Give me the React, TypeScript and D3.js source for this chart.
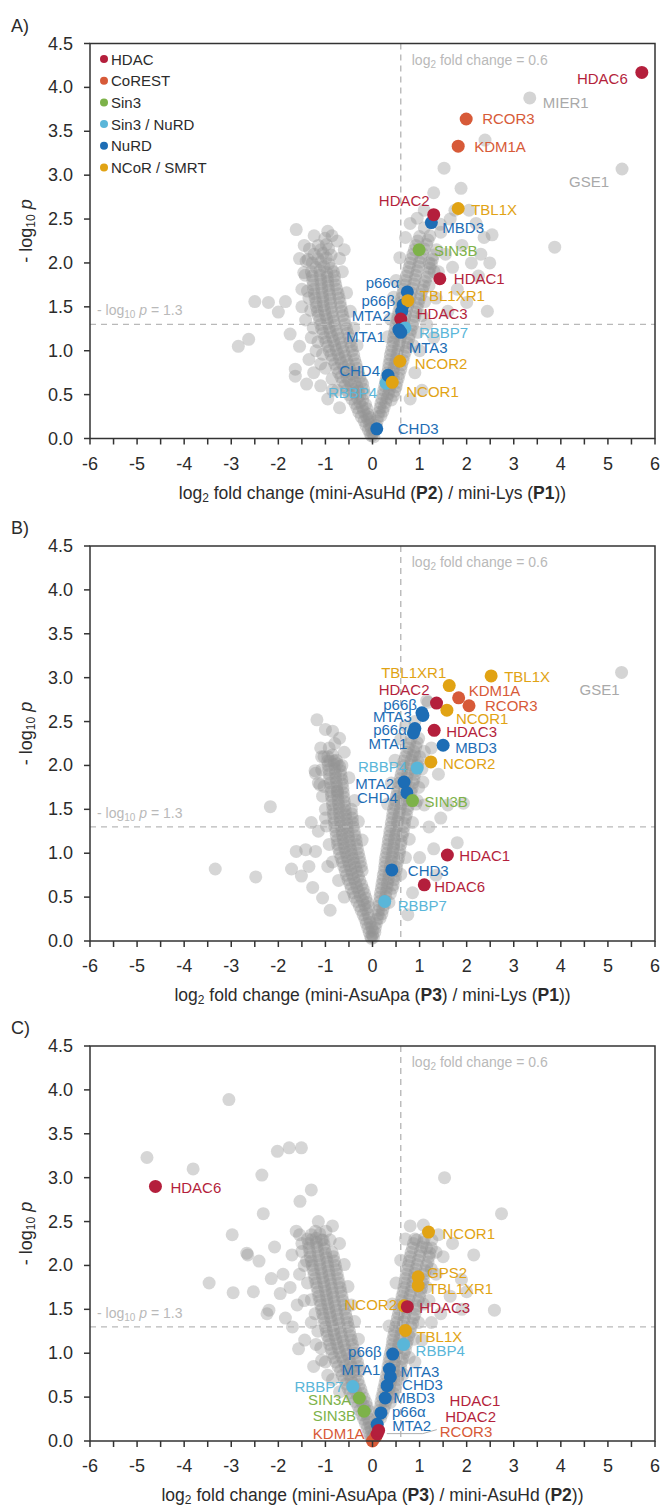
import React from 'react';
import * as d3 from 'd3';

// complex groups (legend order) and their colours
const groups = ['HDAC', 'CoREST', 'Sin3', 'Sin3 / NuRD', 'NuRD', 'NCoR / SMRT'];
const groupColors = ['#b41f3c', '#d75a38', '#7db249', '#5ab6d9', '#1d6db5', '#e1a314'];
const otherColor = '#d4d4d4';

// [gene, group, log2 fold change, -log10 p]
const genesA: [string, string, number, number][] = [
  ['HDAC6', 'HDAC', 5.72, 4.17],
  ['MIER1', 'other', 3.34, 3.88],
  ['RCOR3', 'CoREST', 1.99, 3.64],
  ['KDM1A', 'CoREST', 1.82, 3.33],
  ['GSE1', 'other', 5.3, 3.07],
  ['TBL1X', 'NCoR / SMRT', 1.82, 2.62],
  ['MBD3', 'NuRD', 1.25, 2.46],
  ['HDAC2', 'HDAC', 1.3, 2.55],
  ['SIN3B', 'Sin3', 0.99, 2.15],
  ['HDAC1', 'HDAC', 1.43, 1.82],
  ['p66α', 'NuRD', 0.74, 1.67],
  ['p66β', 'NuRD', 0.65, 1.52],
  ['TBL1XR1', 'NCoR / SMRT', 0.75, 1.57],
  ['MTA2', 'NuRD', 0.62, 1.45],
  ['HDAC3', 'HDAC', 0.6, 1.36],
  ['RBBP7', 'Sin3 / NuRD', 0.69, 1.26],
  ['MTA1', 'NuRD', 0.56, 1.24],
  ['MTA3', 'NuRD', 0.6, 1.21],
  ['NCOR2', 'NCoR / SMRT', 0.58, 0.88],
  ['RBBP4', 'Sin3 / NuRD', 0.29, 0.63],
  ['CHD4', 'NuRD', 0.33, 0.72],
  ['NCOR1', 'NCoR / SMRT', 0.42, 0.64],
  ['CHD3', 'NuRD', 0.09, 0.11],
];

const genesB: [string, string, number, number][] = [
  ['GSE1', 'other', 5.29, 3.06],
  ['TBL1X', 'NCoR / SMRT', 2.52, 3.02],
  ['TBL1XR1', 'NCoR / SMRT', 1.63, 2.91],
  ['KDM1A', 'CoREST', 1.83, 2.77],
  ['RCOR3', 'CoREST', 2.05, 2.68],
  ['NCOR1', 'NCoR / SMRT', 1.58, 2.63],
  ['HDAC2', 'HDAC', 1.36, 2.71],
  ['p66β', 'NuRD', 1.05, 2.6],
  ['MTA3', 'NuRD', 1.07, 2.57],
  ['p66α', 'NuRD', 0.9, 2.42],
  ['MTA1', 'NuRD', 0.87, 2.37],
  ['HDAC3', 'HDAC', 1.31, 2.4],
  ['MBD3', 'NuRD', 1.5, 2.23],
  ['NCOR2', 'NCoR / SMRT', 1.24, 2.04],
  ['RBBP4', 'Sin3 / NuRD', 0.95, 1.97],
  ['MTA2', 'NuRD', 0.67, 1.81],
  ['CHD4', 'NuRD', 0.73, 1.69],
  ['SIN3B', 'Sin3', 0.85, 1.6],
  ['HDAC1', 'HDAC', 1.59, 0.98],
  ['CHD3', 'NuRD', 0.41, 0.81],
  ['HDAC6', 'HDAC', 1.1, 0.64],
  ['RBBP7', 'Sin3 / NuRD', 0.26, 0.45],
];

const genesC: [string, string, number, number][] = [
  ['HDAC6', 'HDAC', -4.61, 2.9],
  ['NCOR1', 'NCoR / SMRT', 1.19, 2.38],
  ['GPS2', 'NCoR / SMRT', 0.97, 1.87],
  ['TBL1XR1', 'NCoR / SMRT', 0.97, 1.77],
  ['NCOR2', 'NCoR / SMRT', 0.67, 1.54],
  ['HDAC3', 'HDAC', 0.74, 1.53],
  ['TBL1X', 'NCoR / SMRT', 0.7, 1.26],
  ['RBBP4', 'Sin3 / NuRD', 0.66, 1.1],
  ['p66β', 'NuRD', 0.43, 0.99],
  ['MTA1', 'NuRD', 0.36, 0.82],
  ['MTA3', 'NuRD', 0.38, 0.73],
  ['CHD3', 'NuRD', 0.31, 0.63],
  ['MBD3', 'NuRD', 0.27, 0.49],
  ['p66α', 'NuRD', 0.18, 0.32],
  ['MTA2', 'NuRD', 0.1, 0.19],
  ['RBBP7', 'Sin3 / NuRD', -0.42, 0.62],
  ['SIN3A', 'Sin3', -0.28, 0.49],
  ['SIN3B', 'Sin3', -0.18, 0.34],
  ['KDM1A', 'CoREST', 0.0, 0.0],
  ['RCOR3', 'CoREST', 0.07, 0.05],
  ['HDAC2', 'HDAC', 0.1, 0.08],
  ['HDAC1', 'HDAC', 0.13, 0.12],
];

// all other quantified proteins, [log2 fold change, -log10 p]
const backgroundA: [number, number][] = [
  // left arm
  [-0.02,0.03],[0.03,0.02],[-0.09,0.1],[-0.03,0.12],[0.04,0.09],[-0.18,0.2],[-0.1,0.22],[-0.04,0.19],
  [-0.29,0.3],[-0.19,0.31],[-0.1,0.28],[-0.37,0.4],[-0.27,0.41],[-0.15,0.39],[-0.5,0.5],[-0.38,0.52],
  [-0.27,0.49],[-0.17,0.51],[-0.59,0.6],[-0.46,0.61],[-0.33,0.59],[-0.21,0.62],[-0.67,0.7],[-0.54,0.69],
  [-0.41,0.72],[-0.27,0.7],[-0.76,0.8],[-0.61,0.81],[-0.48,0.79],[-0.33,0.8],[-0.85,0.9],[-0.7,0.91],
  [-0.55,0.89],[-0.38,0.9],[-0.92,1.0],[-0.77,1.01],[-0.61,0.99],[-0.43,1.0],[-0.99,1.1],[-0.83,1.11],
  [-0.67,1.09],[-0.48,1.1],[-1.05,1.2],[-0.9,1.21],[-0.74,1.19],[-0.53,1.2],[-1.1,1.3],[-0.95,1.31],
  [-0.8,1.29],[-0.58,1.3],[-1.15,1.4],[-1.0,1.41],[-0.84,1.39],[-0.63,1.4],[-1.19,1.5],[-1.04,1.51],
  [-0.88,1.49],[-0.67,1.5],[-1.22,1.6],[-1.06,1.61],[-0.9,1.59],[-0.71,1.6],[-1.25,1.7],[-1.08,1.71],
  [-0.93,1.69],[-0.76,1.7],[-1.27,1.8],[-1.1,1.81],[-0.95,1.79],[-0.8,1.8],[-1.3,1.9],[-1.12,1.91],
  [-0.97,1.89],[-0.83,1.9],[-1.28,2.0],[-1.1,2.01],[-0.93,1.99],[-1.24,2.1],[-1.05,2.11],[-0.88,2.09],
  [-1.15,2.2],[-0.98,2.21],
  [-0.05,0.05],[0.01,0.06],[-0.14,0.15],[-0.06,0.16],[-0.24,0.25],[-0.14,0.26],[-0.06,0.24],
  [-0.33,0.35],[-0.22,0.36],[-0.12,0.34],[-0.44,0.45],[-0.32,0.46],[-0.21,0.44],
  [-0.55,0.55],[-0.42,0.56],[-0.3,0.54],[-0.19,0.56],[-0.63,0.65],[-0.5,0.66],[-0.37,0.64],[-0.24,0.65],
  [-0.72,0.75],[-0.58,0.76],[-0.44,0.74],[-0.3,0.75],[-0.8,0.85],[-0.66,0.86],[-0.51,0.84],[-0.35,0.85],
  [-0.88,0.95],[-0.73,0.96],[-0.58,0.94],[-0.4,0.95],[-0.95,1.05],[-0.8,1.06],[-0.64,1.04],[-0.45,1.05],
  [-1.02,1.15],[-0.86,1.16],[-0.7,1.14],[-0.5,1.15],[-1.08,1.25],[-0.92,1.26],[-0.77,1.24],[-0.55,1.25],
  [-1.12,1.35],[-0.97,1.36],[-0.82,1.34],[-0.6,1.35],[-1.17,1.45],[-1.02,1.46],[-0.86,1.44],[-0.65,1.45],
  [-1.2,1.55],[-1.05,1.56],[-0.89,1.54],[-0.69,1.55],[-1.24,1.65],[-1.07,1.66],[-0.91,1.64],[-0.73,1.65],
  [-1.26,1.75],[-1.09,1.76],[-0.94,1.74],[-0.78,1.75],[-1.28,1.85],[-1.11,1.86],[-0.96,1.84],[-0.81,1.85],
  [-1.2,1.95],[-1.03,1.96],[-0.88,1.94],[-1.16,2.05],[-0.98,2.06],[-1.1,2.15],[-0.93,2.16],
  // left arm, sparse edge
  [-0.75,0.55],[-0.86,0.68],[-1.0,0.8],[-1.06,0.96],[-1.16,1.1],[-1.26,1.26],[-1.31,1.46],[-1.38,1.68],
  [-1.43,1.86],[-1.41,2.02],[-1.34,2.16],[-1.24,2.31],[-0.86,2.31],[-0.95,2.36],[-0.7,2.05],[-0.64,1.9],
  [-0.55,1.66],[-0.47,1.45],[-0.4,1.26],[-0.33,1.06],
  // right arm
  [0.06,0.1],[0.1,0.2],[0.14,0.3],[0.22,0.31],[0.18,0.4],[0.28,0.41],[0.22,0.5],[0.34,0.51],[0.45,0.49],
  [0.26,0.6],[0.38,0.61],[0.5,0.59],[0.3,0.7],[0.42,0.71],[0.55,0.69],[0.34,0.8],[0.46,0.81],[0.6,0.79],
  [0.37,0.9],[0.5,0.91],[0.65,0.89],[0.4,1.0],[0.54,1.01],[0.7,0.99],[0.44,1.1],[0.58,1.11],[0.74,1.09],
  [0.47,1.2],[0.62,1.21],[0.8,1.19],[0.5,1.3],[0.66,1.31],[0.85,1.29],[0.54,1.4],[0.7,1.41],[0.9,1.39],
  [0.58,1.5],[0.75,1.51],[0.95,1.49],[0.62,1.6],[0.8,1.61],[1.0,1.59],[0.66,1.7],[0.85,1.71],[1.06,1.69],
  [0.7,1.8],[0.9,1.81],[1.12,1.79],[0.75,1.9],[0.95,1.91],[1.2,1.89],[0.8,2.0],[1.0,2.01],[1.25,1.99],
  [0.86,2.1],[1.06,2.11],[1.3,2.09],[0.92,2.2],[1.15,2.21],[1.0,2.3],[1.22,2.31],[1.1,2.4],
  [0.08,0.15],[0.12,0.25],[0.18,0.26],[0.16,0.35],[0.25,0.36],[0.2,0.45],[0.31,0.46],[0.4,0.44],
  [0.24,0.55],[0.36,0.56],[0.47,0.54],[0.28,0.65],[0.4,0.66],[0.52,0.64],[0.32,0.75],[0.44,0.76],[0.57,0.74],
  [0.35,0.85],[0.48,0.86],[0.62,0.84],[0.38,0.95],[0.52,0.96],[0.67,0.94],[0.42,1.05],[0.56,1.06],[0.72,1.04],
  [0.45,1.15],[0.6,1.16],[0.77,1.14],[0.48,1.25],[0.64,1.26],[0.82,1.24],[0.52,1.35],[0.68,1.36],[0.87,1.34],
  [0.56,1.45],[0.72,1.46],[0.92,1.44],[0.6,1.55],[0.78,1.56],[0.97,1.54],[0.64,1.65],[0.82,1.66],[1.03,1.64],
  [0.68,1.75],[0.88,1.76],[1.09,1.74],[0.72,1.85],[0.92,1.86],[1.16,1.84],[0.78,1.95],[0.98,1.96],[1.22,1.94],
  [0.83,2.05],[1.03,2.06],[1.27,2.04],[0.89,2.15],[1.1,2.16],[0.96,2.25],[1.18,2.26],
  // right arm, sparse edge
  [0.86,1.06],[0.96,1.21],[1.05,1.4],[1.11,1.56],[1.2,1.74],[1.31,1.9],[1.36,2.15],[1.44,2.44],
  [0.33,1.16],[0.38,1.36],[0.45,1.61],[0.5,1.8],[0.58,2.06],[0.7,2.29],[0.8,2.45],[0.95,2.51],
  // scattered
  [-2.85,1.05],[-2.63,1.13],[-2.5,1.56],[-2.21,1.55],[-1.85,1.56],[-2.0,1.44],[-1.75,1.19],[-1.62,2.38],
  [-1.37,2.04],[-1.01,2.28],[-1.46,1.89],[-1.64,0.79],[-1.64,0.71],[-1.5,1.7],[-1.42,1.35],[-1.55,1.05],
  [-1.35,0.9],[-1.25,0.75],[-1.1,0.6],[-1.4,0.62],[-0.95,0.45],[-1.5,1.5],[-1.35,1.6],[-1.3,1.15],
  [-1.2,1.0],[-1.1,0.85],[-0.85,0.55],[-0.7,0.35],[-1.55,2.05],[-1.45,2.2],[-0.75,2.25],[-0.6,2.15],
  [1.52,3.08],[1.88,2.85],[2.39,3.4],[2.37,2.29],[2.54,2.32],[3.87,2.18],[2.44,1.45],[2.49,2.0],
  [1.65,2.5],[1.45,2.35],[1.9,2.2],[2.1,2.0],[2.25,1.85],[1.7,1.95],[1.35,1.6],[1.15,1.3],[1.6,1.45],
  [2.0,1.55],[1.3,1.15],[1.0,1.0],[1.2,2.0],[1.55,2.1],[1.8,1.7],[2.2,2.45],[1.1,2.6],[1.3,2.8],
  [0.9,0.75],[1.05,0.55],[0.8,0.45],[1.75,2.6],[2.05,2.6],[2.3,2.1],[1.4,1.9],
];

const backgroundB: [number, number][] = [
  // left arm
  [-0.02,0.03],[0.02,0.04],[-0.07,0.1],[0.0,0.12],[-0.13,0.2],[-0.05,0.21],[-0.2,0.3],[-0.1,0.31],
  [-0.28,0.4],[-0.17,0.41],[-0.08,0.39],[-0.38,0.5],[-0.26,0.51],[-0.14,0.49],[-0.45,0.6],[-0.33,0.61],
  [-0.2,0.59],[-0.52,0.7],[-0.4,0.71],[-0.27,0.69],[-0.58,0.8],[-0.46,0.81],[-0.33,0.79],[-0.22,0.8],
  [-0.64,0.9],[-0.52,0.91],[-0.39,0.89],[-0.26,0.9],[-0.7,1.0],[-0.57,1.01],[-0.44,0.99],[-0.3,1.0],
  [-0.74,1.1],[-0.61,1.11],[-0.48,1.09],[-0.34,1.1],[-0.77,1.2],[-0.64,1.21],[-0.51,1.19],[-0.37,1.2],
  [-0.8,1.3],[-0.67,1.31],[-0.54,1.29],[-0.41,1.3],[-0.82,1.4],[-0.69,1.41],[-0.56,1.39],[-0.43,1.4],
  [-0.84,1.5],[-0.71,1.51],[-0.58,1.49],[-0.45,1.5],[-0.86,1.6],[-0.73,1.61],[-0.6,1.59],[-0.88,1.7],
  [-0.75,1.71],[-0.62,1.69],[-0.9,1.8],[-0.77,1.81],[-0.64,1.79],[-0.92,1.9],[-0.79,1.91],[-0.67,1.89],
  [-0.94,2.0],[-0.82,2.01],[-0.7,1.99],[-0.95,2.1],[-0.85,2.12],[-0.92,2.2],[-0.8,2.25],
  [-0.04,0.05],[0.0,0.07],[-0.1,0.15],[-0.02,0.16],[-0.16,0.25],[-0.07,0.26],[-0.24,0.35],[-0.14,0.36],
  [-0.33,0.45],[-0.21,0.46],[-0.11,0.44],[-0.41,0.55],[-0.29,0.56],[-0.17,0.54],[-0.48,0.65],[-0.36,0.66],
  [-0.23,0.64],[-0.55,0.75],[-0.43,0.76],[-0.3,0.74],[-0.61,0.85],[-0.49,0.86],[-0.36,0.84],[-0.24,0.85],
  [-0.67,0.95],[-0.54,0.96],[-0.41,0.94],[-0.28,0.95],[-0.72,1.05],[-0.59,1.06],[-0.46,1.04],[-0.32,1.05],
  [-0.75,1.15],[-0.62,1.16],[-0.49,1.14],[-0.35,1.15],[-0.78,1.25],[-0.65,1.26],[-0.52,1.24],[-0.39,1.25],
  [-0.81,1.35],[-0.68,1.36],[-0.55,1.34],[-0.42,1.35],[-0.83,1.45],[-0.7,1.46],[-0.57,1.44],[-0.44,1.45],
  [-0.85,1.55],[-0.72,1.56],[-0.59,1.54],[-0.87,1.65],[-0.74,1.66],[-0.61,1.64],[-0.89,1.75],[-0.76,1.76],
  [-0.63,1.74],[-0.91,1.85],[-0.78,1.86],[-0.65,1.84],[-0.93,1.95],[-0.8,1.96],[-0.68,1.94],[-0.9,2.05],
  [-0.77,2.06],
  // left arm, sparse edge
  [-0.6,0.5],[-0.72,0.69],[-0.85,0.9],[-0.92,1.1],[-0.98,1.31],[-1.0,1.5],[-1.03,1.76],[-1.08,1.95],
  [-1.1,2.2],[-0.7,2.31],[-0.6,2.15],[-0.5,1.86],[-0.38,1.6],[-0.3,1.36],[-0.22,1.15],
  // right arm
  [0.05,0.1],[0.08,0.2],[0.12,0.3],[0.2,0.31],[0.14,0.4],[0.25,0.41],[0.16,0.5],[0.28,0.51],[0.19,0.6],
  [0.31,0.61],[0.42,0.6],[0.22,0.7],[0.34,0.71],[0.46,0.7],[0.25,0.8],[0.37,0.81],[0.5,0.8],[0.27,0.9],
  [0.4,0.91],[0.53,0.9],[0.3,1.0],[0.43,1.01],[0.57,1.0],[0.33,1.1],[0.46,1.11],[0.6,1.1],[0.36,1.2],
  [0.49,1.21],[0.63,1.2],[0.39,1.3],[0.52,1.31],[0.67,1.3],[0.42,1.4],[0.55,1.41],[0.7,1.4],[0.45,1.5],
  [0.59,1.51],[0.74,1.5],[0.49,1.6],[0.63,1.61],[0.78,1.6],[0.53,1.7],[0.67,1.71],[0.82,1.7],[0.57,1.8],
  [0.71,1.81],[0.86,1.8],[0.61,1.9],[0.75,1.91],[0.9,1.9],[0.65,2.0],[0.8,2.01],[0.95,2.0],[0.7,2.1],
  [0.85,2.11],[1.0,2.1],[0.76,2.2],[0.92,2.21],[0.82,2.3],[0.98,2.31],
  [0.06,0.15],[0.1,0.25],[0.16,0.26],[0.13,0.35],[0.22,0.36],[0.15,0.45],[0.26,0.46],[0.35,0.44],
  [0.17,0.55],[0.29,0.56],[0.38,0.54],[0.2,0.65],[0.32,0.66],[0.44,0.64],[0.23,0.75],[0.35,0.76],[0.48,0.74],
  [0.26,0.85],[0.38,0.86],[0.51,0.84],[0.28,0.95],[0.41,0.96],[0.55,0.94],[0.31,1.05],[0.44,1.06],[0.58,1.04],
  [0.34,1.15],[0.47,1.16],[0.61,1.14],[0.37,1.25],[0.5,1.26],[0.65,1.24],[0.4,1.35],[0.53,1.36],[0.68,1.34],
  [0.43,1.45],[0.57,1.46],[0.72,1.44],[0.47,1.55],[0.61,1.56],[0.76,1.54],[0.51,1.65],[0.65,1.66],[0.8,1.64],
  [0.55,1.75],[0.69,1.76],[0.84,1.74],[0.59,1.85],[0.73,1.86],[0.88,1.84],[0.63,1.95],[0.77,1.96],[0.92,1.94],
  [0.67,2.05],[0.82,2.06],[0.97,2.04],[0.73,2.15],[0.88,2.16],[0.79,2.25],[0.95,2.26],
  // right arm, sparse edge
  [0.6,0.76],[0.7,0.95],[0.78,1.16],[0.85,1.35],[0.92,1.56],[0.98,1.75],[1.05,1.96],[1.1,2.16],
  [0.32,1.56],[0.4,1.8],[0.48,2.06],[0.6,2.3],[0.7,2.45],[0.9,2.5],
  // scattered
  [-3.34,0.82],[-2.48,0.73],[-2.17,1.53],[-1.72,0.82],[-1.62,1.02],[-1.42,1.04],[-1.21,1.02],[-1.51,0.74],
  [-1.27,0.61],[-1.06,0.49],[-1.03,2.1],[-0.81,2.05],[-1.21,1.91],[-1.12,1.78],[-1.06,1.65],[-0.65,2.0],
  [-1.18,2.52],[-1.0,2.41],[-0.85,2.39],[-1.08,2.1],[-0.95,2.05],[-0.75,2.02],[-1.22,1.94],[-1.15,1.8],
  [-0.74,1.7],[-1.3,1.35],[-1.15,1.25],[-1.0,1.4],[-0.95,0.85],[-1.35,0.85],[-0.9,0.35],
  [1.8,1.12],[1.93,1.57],[1.2,1.3],[1.0,0.95],[1.35,0.75],[1.45,1.4],[1.18,2.72],[1.15,2.74],[0.9,2.12],
  [1.07,1.81],[1.1,1.55],[1.3,1.05],[0.95,1.6],[1.6,1.55],[0.85,0.55],[0.75,0.3],[1.25,2.2],[1.4,1.9],
];

const backgroundC: [number, number][] = [
  // left arm
  [-0.02,0.03],[0.03,0.02],[-0.08,0.1],[-0.02,0.12],[-0.15,0.2],[-0.07,0.21],[-0.23,0.3],[-0.13,0.31],
  [-0.31,0.4],[-0.2,0.41],[-0.11,0.39],[-0.44,0.5],[-0.31,0.51],[-0.18,0.49],[-0.52,0.6],[-0.39,0.61],
  [-0.25,0.59],[-0.6,0.7],[-0.46,0.71],[-0.31,0.69],[-0.68,0.8],[-0.54,0.81],[-0.4,0.79],[-0.27,0.8],
  [-0.78,0.9],[-0.62,0.91],[-0.47,0.89],[-0.32,0.9],[-0.86,1.0],[-0.7,1.01],[-0.54,0.99],[-0.38,1.0],
  [-0.91,1.1],[-0.76,1.11],[-0.6,1.09],[-0.43,1.1],[-0.96,1.2],[-0.81,1.21],[-0.65,1.19],[-0.47,1.2],
  [-1.0,1.3],[-0.85,1.31],[-0.69,1.29],[-0.51,1.3],[-1.04,1.4],[-0.89,1.41],[-0.73,1.39],[-0.55,1.4],
  [-1.08,1.5],[-0.93,1.51],[-0.77,1.49],[-0.59,1.5],[-1.12,1.6],[-0.97,1.61],[-0.81,1.59],[-0.63,1.6],
  [-1.16,1.7],[-1.0,1.71],[-0.85,1.69],[-0.67,1.7],[-1.2,1.8],[-1.04,1.81],[-0.88,1.79],[-0.71,1.8],
  [-1.24,1.9],[-1.08,1.91],[-0.92,1.89],[-0.75,1.9],[-1.28,2.0],[-1.12,2.01],[-0.95,1.99],[-0.79,2.0],
  [-1.32,2.1],[-1.15,2.11],[-0.98,2.09],[-0.83,2.1],[-1.35,2.2],[-1.18,2.21],[-1.02,2.19],[-1.38,2.3],
  [-1.2,2.31],[-1.05,2.29],
  [-0.05,0.05],[0.01,0.06],[-0.11,0.15],[-0.04,0.16],[-0.19,0.25],[-0.1,0.26],[-0.27,0.35],[-0.16,0.36],
  [-0.07,0.34],[-0.37,0.45],[-0.25,0.46],[-0.14,0.44],[-0.48,0.55],[-0.35,0.56],[-0.22,0.54],
  [-0.56,0.65],[-0.42,0.66],[-0.28,0.64],[-0.64,0.75],[-0.5,0.76],[-0.35,0.74],[-0.73,0.85],[-0.58,0.86],
  [-0.43,0.84],[-0.3,0.85],[-0.82,0.95],[-0.66,0.96],[-0.5,0.94],[-0.35,0.95],[-0.88,1.05],[-0.73,1.06],
  [-0.57,1.04],[-0.4,1.05],[-0.93,1.15],[-0.78,1.16],[-0.62,1.14],[-0.45,1.15],[-0.98,1.25],[-0.83,1.26],
  [-0.67,1.24],[-0.49,1.25],[-1.02,1.35],[-0.87,1.36],[-0.71,1.34],[-0.53,1.35],[-1.06,1.45],[-0.91,1.46],
  [-0.75,1.44],[-0.57,1.45],[-1.1,1.55],[-0.95,1.56],[-0.79,1.54],[-0.61,1.55],[-1.14,1.65],[-0.98,1.66],
  [-0.83,1.64],[-0.65,1.65],[-1.18,1.75],[-1.02,1.76],[-0.86,1.74],[-0.69,1.75],[-1.22,1.85],[-1.06,1.86],
  [-0.9,1.84],[-0.73,1.85],[-1.26,1.95],[-1.1,1.96],[-0.93,1.94],[-0.77,1.95],[-1.3,2.05],[-1.13,2.06],
  [-0.96,2.04],[-0.81,2.05],[-1.33,2.15],[-1.16,2.16],[-1.0,2.14],[-0.86,2.15],[-1.36,2.25],[-1.19,2.26],
  [-1.03,2.24],[-1.3,2.35],[-1.12,2.36],
  // left arm, sparse edge
  [-0.7,0.56],[-0.85,0.7],[-1.0,0.9],[-1.1,1.06],[-1.16,1.25],[-1.22,1.45],[-1.3,1.61],[-1.38,1.8],
  [-1.45,2.0],[-1.5,2.16],[-1.55,2.35],[-0.85,2.45],[-0.7,2.25],[-0.6,2.01],[-0.52,1.76],[-0.45,1.55],
  [-0.38,1.36],[-0.3,1.16],
  // right arm
  [0.05,0.1],[0.09,0.2],[0.13,0.3],[0.21,0.31],[0.17,0.4],[0.27,0.41],[0.2,0.5],[0.32,0.51],[0.43,0.5],
  [0.24,0.6],[0.36,0.61],[0.48,0.6],[0.28,0.7],[0.4,0.71],[0.53,0.7],[0.32,0.8],[0.44,0.81],[0.58,0.8],
  [0.35,0.9],[0.48,0.91],[0.62,0.9],[0.38,1.0],[0.52,1.01],[0.67,1.0],[0.42,1.1],[0.56,1.11],[0.72,1.1],
  [0.45,1.2],[0.6,1.21],[0.77,1.2],[0.49,1.3],[0.64,1.31],[0.82,1.3],[0.53,1.4],[0.68,1.41],[0.87,1.4],
  [0.57,1.5],[0.72,1.51],[0.92,1.5],[0.61,1.6],[0.77,1.61],[0.97,1.6],[0.65,1.7],[0.82,1.71],[1.02,1.7],
  [0.69,1.8],[0.86,1.81],[1.06,1.8],[0.72,1.9],[0.9,1.91],[1.1,1.9],[0.76,2.0],[0.95,2.01],[1.15,2.0],
  [0.8,2.1],[1.0,2.11],[1.2,2.1],[0.85,2.2],[1.05,2.21],[1.25,2.2],[0.9,2.3],[1.1,2.31],
  [0.07,0.15],[0.11,0.25],[0.17,0.26],[0.15,0.35],[0.24,0.36],[0.18,0.45],[0.29,0.46],[0.38,0.44],
  [0.22,0.55],[0.34,0.56],[0.45,0.54],[0.26,0.65],[0.38,0.66],[0.5,0.64],[0.3,0.75],[0.42,0.76],[0.55,0.74],
  [0.33,0.85],[0.46,0.86],[0.6,0.84],[0.36,0.95],[0.5,0.96],[0.64,0.94],[0.4,1.05],[0.54,1.06],[0.7,1.04],
  [0.43,1.15],[0.58,1.16],[0.74,1.14],[0.47,1.25],[0.62,1.26],[0.8,1.24],[0.51,1.35],[0.66,1.36],[0.85,1.34],
  [0.55,1.45],[0.7,1.46],[0.9,1.44],[0.59,1.55],[0.75,1.56],[0.95,1.54],[0.63,1.65],[0.8,1.66],[1.0,1.64],
  [0.67,1.75],[0.84,1.76],[1.04,1.74],[0.7,1.85],[0.88,1.86],[1.08,1.84],[0.74,1.95],[0.92,1.96],[1.12,1.94],
  [0.78,2.05],[0.97,2.06],[1.18,2.04],[0.82,2.15],[1.02,2.16],[1.22,2.14],[0.87,2.25],[1.08,2.26],
  // right arm, sparse edge
  [0.65,0.76],[0.78,0.95],[0.88,1.16],[0.98,1.35],[1.08,1.56],[1.15,1.75],[1.25,1.96],[1.35,2.15],
  [1.4,2.35],[0.35,1.31],[0.42,1.56],[0.5,1.8],[0.6,2.06],[0.7,2.3],[0.8,2.45],
  // scattered
  [-3.05,3.89],[-4.79,3.23],[-3.81,3.1],[-2.02,3.3],[-1.77,3.34],[-1.51,3.34],[-2.35,3.03],[-1.3,2.86],
  [-1.54,2.73],[-2.32,2.59],[-2.98,2.35],[-1.62,2.39],[-1.21,2.39],[-0.99,2.39],[-1.3,2.29],[-1.08,2.29],
  [-0.9,2.29],[-2.08,2.21],[-2.65,2.12],[-3.47,1.8],[-2.96,1.69],[-2.53,1.7],[-2.67,2.14],[-2.41,2.05],
  [-2.24,1.45],[-2.2,1.49],[-1.96,1.68],[-1.71,2.12],[-1.57,1.05],[-1.44,1.15],[-1.08,0.92],[-1.9,1.9],
  [-1.75,1.75],[-1.6,1.55],[-1.85,1.4],[-1.55,1.9],[-1.45,1.6],[-1.3,1.35],[-1.2,1.1],[-1.4,2.05],
  [-2.15,1.85],[-1.7,1.3],[-0.95,0.75],[-1.25,0.85],[-1.5,2.25],[-1.15,2.5],
  [1.53,3.0],[2.74,2.59],[1.08,2.46],[0.94,2.29],[1.26,2.29],[2.59,1.49],[2.15,2.12],[1.89,1.84],
  [1.5,2.1],[1.35,1.9],[1.65,1.65],[1.45,1.45],[1.25,1.35],[1.9,1.5],[1.15,2.2],[1.7,2.25],[2.0,1.7],
  [1.2,1.6],[1.05,1.15],[0.9,0.9],
];

// axis title pieces: numerator, numerator peptide, denominator, denominator peptide
const xTitleA = ['mini-AsuHd', 'P2', 'mini-Lys', 'P1'];
const xTitleB = ['mini-AsuApa', 'P3', 'mini-Lys', 'P1'];
const xTitleC = ['mini-AsuApa', 'P3', 'mini-AsuHd', 'P2'];

// label placement (pixels from the dot, text anchor)
type Place = [number, number, string];
const placeA: Record<string, Place> = {
  HDAC6: [-14, 6, 'end'], MIER1: [13, 5, 'start'], RCOR3: [16, 0, 'start'], KDM1A: [16, 0, 'start'],
  GSE1: [-13, 12, 'end'], HDAC2: [-4, -14, 'end'], TBL1X: [13, 1, 'start'], MBD3: [11, 5, 'start'],
  SIN3B: [15, 1, 'start'], HDAC1: [14, 0, 'start'], 'p66α': [-8, -9, 'end'], TBL1XR1: [12, -5, 'start'],
  'p66β': [-8, -5, 'end'], MTA2: [-11, 4, 'end'], HDAC3: [16, -6, 'start'], RBBP7: [14, 5, 'start'],
  MTA1: [-14, 7, 'end'], MTA3: [8, 15, 'start'], NCOR2: [15, 2, 'start'], CHD4: [-8, -5, 'end'],
  RBBP4: [-9, 9, 'end'], NCOR1: [14, 9, 'start'], CHD3: [21, 0, 'start'],
};
const placeB: Record<string, Place> = {
  GSE1: [-2, 17, 'end'], TBL1X: [13, 1, 'start'], TBL1XR1: [-3, -13, 'end'], KDM1A: [10, -7, 'start'],
  RCOR3: [16, 0, 'start'], HDAC2: [-7, -14, 'end'], NCOR1: [9, 8, 'start'], 'p66β': [-5, -8, 'end'],
  MTA3: [-11, 1, 'end'], 'p66α': [-8, 1, 'end'], MTA1: [-6, 11, 'end'], HDAC3: [12, 1, 'start'],
  MBD3: [12, 2, 'start'], NCOR2: [12, 2, 'start'], RBBP4: [-10, -2, 'end'], MTA2: [-10, 1, 'end'],
  CHD4: [-9, 5, 'end'], SIN3B: [12, 1, 'start'], HDAC1: [12, 1, 'start'], CHD3: [16, 1, 'start'],
  HDAC6: [10, 2, 'start'], RBBP7: [13, 4, 'start'],
};
const placeC: Record<string, Place> = {
  HDAC6: [15, 1, 'start'], NCOR1: [14, 1, 'start'], GPS2: [9, -4, 'start'], TBL1XR1: [10, 3, 'start'],
  NCOR2: [-7, -1, 'end'], HDAC3: [12, 1, 'start'], TBL1X: [11, 6, 'start'], RBBP4: [12, 6, 'start'],
  'p66β': [-11, -3, 'end'], MTA1: [-9, 0, 'end'], MTA3: [10, -5, 'start'], CHD3: [15, -1, 'start'],
  MBD3: [8, 0, 'start'], 'p66α': [11, -1, 'start'], MTA2: [15, 1, 'start'], RBBP7: [-9, 0, 'end'],
  SIN3A: [-8, 2, 'end'], SIN3B: [-8, 4, 'end'], KDM1A: [-8, -8, 'end'], RCOR3: [64, -5, 'start'],
  HDAC2: [68, -17, 'start'], HDAC1: [71, -30, 'start'],
};
const leaderC: Record<string, [number, number][]> = {
  RCOR3: [[61, -7], [47, -3], [11, -3]],
};

const FONT = 'Liberation Sans, Arial, Helvetica, sans-serif';
const TEXT = '#2b2b2b';
const GUIDE = '#b9b9b9';
const plotLeft = 90;
const plotRight = 655;
const plotH = 395;
const R = 6.5;

const colorOf = (g: string) => {
  const i = groups.indexOf(g);
  return i < 0 ? otherColor : groupColors[i];
};
const labelColorOf = (g: string) => (groups.indexOf(g) < 0 ? '#a9a9a9' : colorOf(g));

type PanelProps = {
  top: number;
  tag: string;
  background: [number, number][];
  genes: [string, string, number, number][];
  place: Record<string, Place>;
  leaders?: Record<string, [number, number][]>;
  xTitle: string[];
  legend?: boolean;
};

const Panel = ({ top, tag, background, genes, place, leaders, xTitle, legend }: PanelProps) => {
  const x = d3.scaleLinear().domain([-6, 6]).range([plotLeft, plotRight]);
  const y = d3.scaleLinear().domain([0, 4.5]).range([top + plotH, top]);
  const bottom = top + plotH;
  const xTicks = x.ticks(24);
  const yTicks = y.ticks(9);
  const fmtY = d3.format('.1f');
  const midX = (plotLeft + plotRight) / 2;

  return (
    <g fontFamily={FONT}>
      <text x={11} y={top - 12} fontSize={18} fill={TEXT}>{tag}</text>

      {/* grey cloud */}
      <g>
        {background.map((d, i) => (
          <circle key={i} cx={x(d[0])} cy={y(d[1])} r={R} fill="#949494" fillOpacity={0.38} />
        ))}
      </g>

      {/* thresholds */}
      <line x1={x(0.6)} x2={x(0.6)} y1={top} y2={bottom} stroke={GUIDE} strokeWidth={1.4} strokeDasharray="6,5" />
      <line x1={plotLeft} x2={plotRight} y1={y(1.3)} y2={y(1.3)} stroke={GUIDE} strokeWidth={1.4} strokeDasharray="6,5" />
      <text x={x(0.6) + 11} y={top + 16} fontSize={14} fill={GUIDE} dominantBaseline="central">
        log<tspan fontSize={10} dy={4}>2</tspan><tspan dy={-4}>{' fold change = 0.6'}</tspan>
      </text>
      <text x={plotLeft + 7} y={y(1.3) - 14} fontSize={14} fill={GUIDE} dominantBaseline="central">
        {'- log'}<tspan fontSize={10} dy={4}>10</tspan><tspan dy={-4}>{' '}</tspan><tspan fontStyle="italic">p</tspan>{' = 1.3'}
      </text>

      {/* leader lines */}
      {genes.map(([name, , gx, gy]) => {
        const l = leaders && leaders[name];
        if (!l) return null;
        const line = d3.line()(l.map(([dx, dy]) => [x(gx) + dx, y(gy) + dy] as [number, number]));
        return <path key={'l' + name} d={line || ''} fill="none" stroke="#b0b0b0" strokeWidth={1} />;
      })}

      {/* highlighted proteins */}
      {genes.map(([name, g, gx, gy]) => (
        <circle key={name} cx={x(gx)} cy={y(gy)} r={R} fill={colorOf(g)} />
      ))}
      {genes.map(([name, g, gx, gy]) => {
        const p = place[name] || [10, 0, 'start'];
        return (
          <text key={'t' + name} x={x(gx) + p[0]} y={y(gy) + p[1]} textAnchor={p[2] as any}
            dominantBaseline="central" fontSize={15} fill={labelColorOf(g)}>
            {name}
          </text>
        );
      })}

      {/* frame */}
      <rect x={plotLeft} y={top} width={plotRight - plotLeft} height={plotH} fill="none" stroke="#333" strokeWidth={1.5} />

      {/* x axis */}
      {xTicks.map((t) => (
        <line key={'xt' + t} x1={x(t)} x2={x(t)} y1={bottom} y2={bottom + 6} stroke="#333" strokeWidth={1.5} />
      ))}
      {xTicks.filter((t) => Number.isInteger(t)).map((t) => (
        <text key={'xl' + t} x={x(t)} y={bottom + 25} textAnchor="middle" dominantBaseline="central" fontSize={18} fill={TEXT}>
          {String(t)}
        </text>
      ))}
      <text x={midX} y={bottom + 54} textAnchor="middle" dominantBaseline="central" fontSize={17.5} fill={TEXT}>
        log<tspan fontSize={12} dy={5}>2</tspan>
        <tspan dy={-5}>{' fold change (' + xTitle[0] + ' ('}</tspan>
        <tspan fontWeight="bold">{xTitle[1]}</tspan>
        <tspan>{') / ' + xTitle[2] + ' ('}</tspan>
        <tspan fontWeight="bold">{xTitle[3]}</tspan>
        <tspan>{'))'}</tspan>
      </text>

      {/* y axis */}
      {yTicks.map((t) => (
        <g key={'yt' + t}>
          <line x1={plotLeft - 6} x2={plotLeft} y1={y(t)} y2={y(t)} stroke="#333" strokeWidth={1.5} />
          <text x={plotLeft - 17} y={y(t)} textAnchor="end" dominantBaseline="central" fontSize={18} fill={TEXT}>
            {fmtY(t)}
          </text>
        </g>
      ))}
      <text transform={`translate(26, ${top + plotH / 2 - 10}) rotate(-90)`} textAnchor="middle"
        dominantBaseline="central" fontSize={18} fill={TEXT}>
        {'- log'}<tspan fontSize={12} dy={5}>10</tspan><tspan dy={-5}>{' '}</tspan><tspan fontStyle="italic">p</tspan>
      </text>

      {legend && (
        <g>
          {groups.map((g, i) => (
            <g key={g} transform={`translate(104, ${top + 15.5 + i * 21.7})`}>
              <circle r={4} fill={groupColors[i]} />
              <text x={7} dominantBaseline="central" fontSize={15} fill={TEXT}>{g}</text>
            </g>
          ))}
        </g>
      )}
    </g>
  );
};

export default function App() {
  return (
    <div style={{ position: 'absolute', left: 0, top: 0 }}>
      <svg width={661} height={1506} style={{ display: 'block', background: '#fff' }}>
        <Panel top={43.5} tag="A)" background={backgroundA} genes={genesA} place={placeA} xTitle={xTitleA} legend />
        <Panel top={546} tag="B)" background={backgroundB} genes={genesB} place={placeB} xTitle={xTitleB} />
        <Panel top={1046} tag="C)" background={backgroundC} genes={genesC} place={placeC} leaders={leaderC} xTitle={xTitleC} />
      </svg>
    </div>
  );
}
